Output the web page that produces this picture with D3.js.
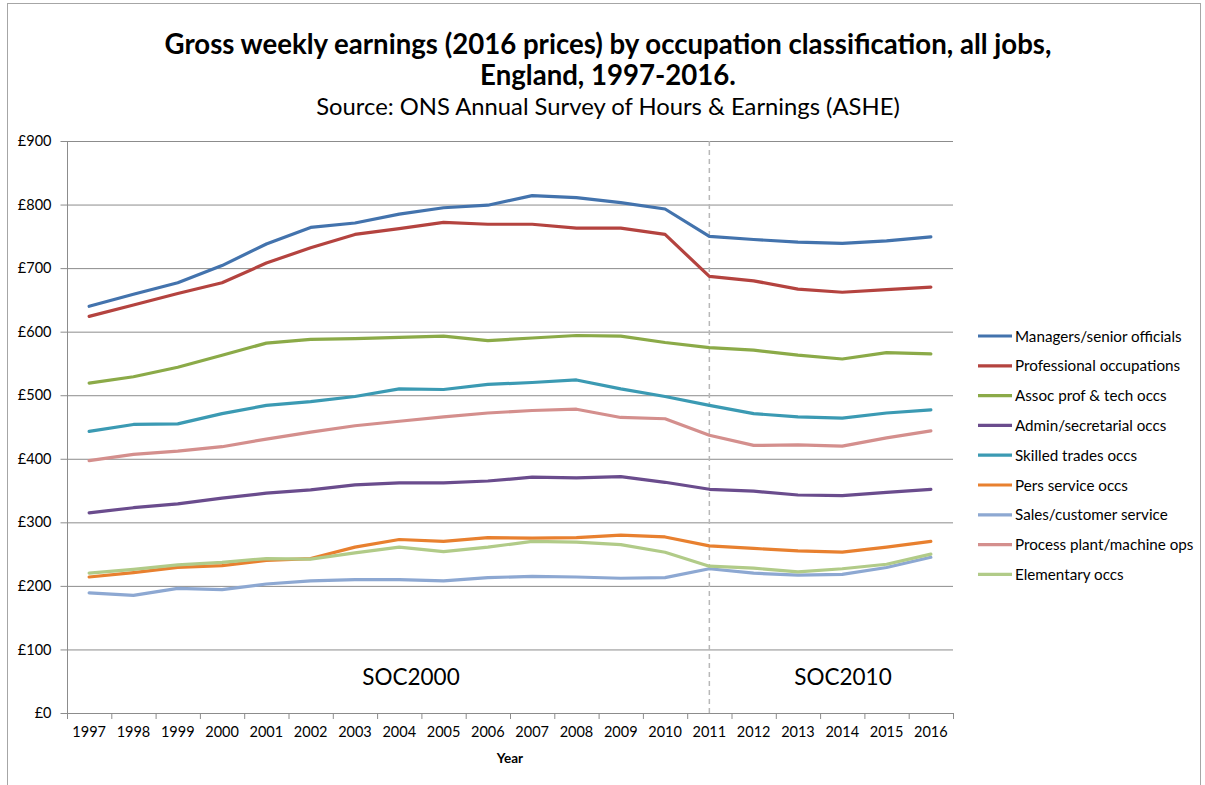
<!DOCTYPE html>
<html>
<head>
<meta charset="utf-8">
<script src="https://cdn.jsdelivr.net/npm/d3@7"></script>
<style>
  html, body { margin: 0; padding: 0; background: #fff; }
  svg { display: block; font-family: Lato, "Open Sans", sans-serif; }
</style>
</head>
<body>
<svg id="chart" width="1205" height="785"></svg>
<script>
const years = ["1997","1998","1999","2000","2001","2002","2003","2004","2005","2006","2007","2008","2009","2010","2011","2012","2013","2014","2015","2016"];
const yTicks = [0,100,200,300,400,500,600,700,800,900];
const seriesNames = ["Managers/senior officials","Professional occupations","Assoc prof & tech occs","Admin/secretarial occs","Skilled trades occs","Pers service occs","Sales/customer service","Process plant/machine ops","Elementary occs"];
const seriesColors = ["#4373AD","#B4433F","#8BAA48","#6A4C8D","#3B9AB3","#E8802F","#8DA8D2","#D48F8D","#B1CB88"];
const managers     = [640,659,677,704,738,764,771,785,795,799,814,811,803,793,750,745,741,739,743,749];
const professional = [624,642,660,677,708,732,753,762,772,769,769,763,763,753,687,680,667,662,666,670];
const assocProf    = [519,529,544,563,582,588,589,591,593,586,590,594,593,583,575,571,563,557,567,565];
const admin        = [315,323,329,338,346,351,359,362,362,365,371,370,372,363,352,349,343,342,347,352];
const skilled      = [443,454,455,471,484,490,498,510,509,517,520,524,510,498,484,471,466,464,472,477];
const persService  = [214,221,229,232,240,243,261,273,270,276,275,276,280,277,263,259,255,253,261,270];
const sales        = [189,185,196,194,203,208,210,210,208,213,215,214,212,213,227,220,217,218,229,245];
const processPlant = [397,407,412,419,431,442,452,459,466,472,476,478,465,463,437,421,422,420,433,444];
const elementary   = [220,226,233,237,243,242,252,261,254,261,270,269,265,253,231,228,222,227,234,250];
const seriesValues = [managers, professional, assocProf, admin, skilled, persService, sales, processPlant, elementary];
const socBreakYear = "2011";
const socLabels = ["SOC2000","SOC2010"];

(function(){
const svg = d3.select("#chart");
const pl = 67, pr = 953, pt = 141, pb = 713;

// outer frame
svg.append("rect").attr("x",7.5).attr("y",3.5).attr("width",1193).attr("height",800)
  .attr("fill","none").attr("stroke","#a6a6a6").attr("stroke-width",1);

const x = d3.scaleBand().domain(years).range([pl,pr]);
const xc = d => x(d) + x.bandwidth()/2;
const y = d3.scaleLinear().domain([0,900]).range([pb,pt]);

// gridlines
svg.append("g").selectAll("line").data(yTicks.filter(t=>t>0)).join("line")
  .attr("x1",pl).attr("x2",pr).attr("y1",d=>y(d)+0.5).attr("y2",d=>y(d)+0.5)
  .attr("stroke","#8c8c8c").attr("stroke-width",1);

// y axis
const yAxis = svg.append("g").attr("transform",`translate(${pl+0.5},0)`)
  .call(d3.axisLeft(y).tickValues(yTicks).tickSize(7).tickPadding(9).tickFormat(d=>"£"+d));
yAxis.selectAll("path,line").attr("stroke","#8c8c8c");
yAxis.select("path").attr("d",`M0,${pt}V${pb}`);
yAxis.selectAll("text").attr("font-size",14.5).attr("fill","#000").attr("font-family","Lato, sans-serif");

// x axis
const xAxis = svg.append("g").attr("transform",`translate(0,${pb+0.5})`)
  .call(d3.axisBottom(x).tickSize(0).tickPadding(13));
xAxis.select("path").attr("stroke","#8c8c8c").attr("d",`M${pl},0H${pr}`);
xAxis.selectAll("text").attr("font-size",14.5).attr("fill","#000").attr("font-family","Lato, sans-serif");
// tick marks between categories
svg.append("g").selectAll("line").data(years.concat(["end"])).join("line")
  .attr("x1",(d,i)=> (i<years.length ? x(d) : pr)+0.5)
  .attr("x2",(d,i)=> (i<years.length ? x(d) : pr)+0.5)
  .attr("y1",pb).attr("y2",pb+6).attr("stroke","#8c8c8c");

svg.append("text").attr("x",510).attr("y",763).attr("text-anchor","middle")
  .attr("font-size",13.5).attr("font-weight","bold").text("Year");

// SOC break line
svg.append("line").attr("x1",xc(socBreakYear)).attr("x2",xc(socBreakYear))
  .attr("y1",pt).attr("y2",pb).attr("stroke","#b8b8b8").attr("stroke-width",1.5)
  .attr("stroke-dasharray","5,4");

// SOC labels
svg.append("g").selectAll("text").data(socLabels).join("text")
  .attr("x",(d,i)=> i===0 ? 411 : 843)
  .attr("y",685).attr("text-anchor","middle").attr("font-size",22.5).text(d=>d);

// lines
const line = d3.line().x((d,i)=>xc(years[i])).y(d=>y(d));
svg.append("g").selectAll("path").data(seriesValues).join("path")
  .attr("d",line).attr("fill","none")
  .attr("stroke",(d,i)=>seriesColors[i]).attr("stroke-width",3.2)
  .attr("stroke-linejoin","round").attr("stroke-linecap","round");

// legend
const lg = svg.append("g").selectAll("g").data(seriesNames).join("g")
  .attr("transform",(d,i)=>`translate(978,${336 + i*29.8})`);
lg.append("line").attr("x1",0).attr("x2",34).attr("y1",0).attr("y2",0)
  .attr("stroke",(d,i)=>seriesColors[i]).attr("stroke-width",3.2);
lg.append("text").attr("x",37).attr("y",5.5).attr("font-size",15.2).text(d=>d);

// titles
svg.append("text").attr("x",608).attr("y",54).attr("text-anchor","middle")
  .attr("font-size",27.6).attr("font-weight","bold")
  .text("Gross weekly earnings (2016 prices) by occupation classification, all jobs,");
svg.append("text").attr("x",608).attr("y",85).attr("text-anchor","middle")
  .attr("font-size",27.6).attr("font-weight","bold").text("England, 1997-2016.");
svg.append("text").attr("x",608).attr("y",115).attr("text-anchor","middle")
  .attr("font-size",23.8).text("Source: ONS Annual Survey of Hours & Earnings (ASHE)");
})();
</script>
</body>
</html>
